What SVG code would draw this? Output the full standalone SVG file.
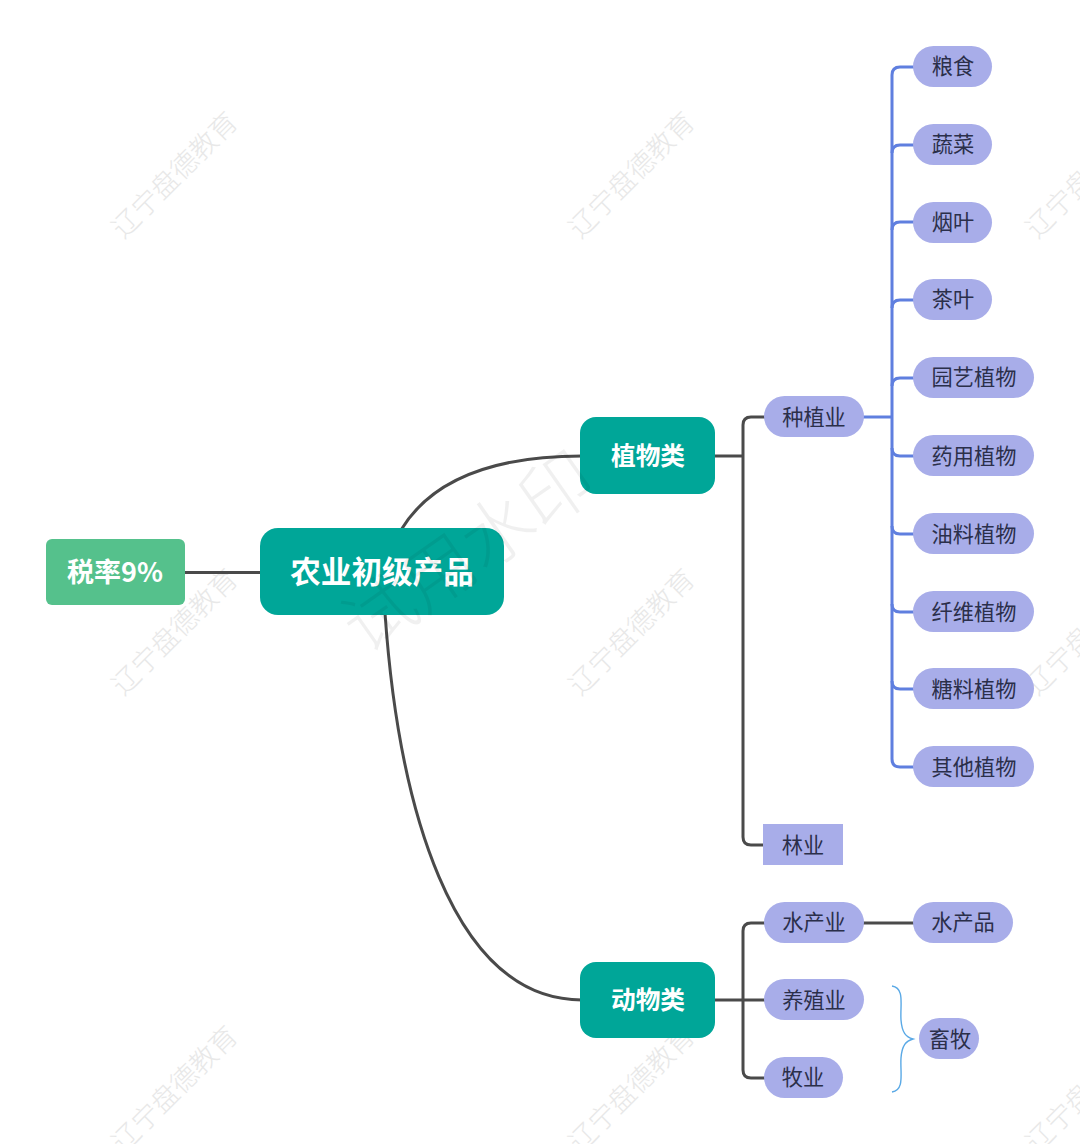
<svg xmlns="http://www.w3.org/2000/svg" width="1080" height="1144" viewBox="0 0 1080 1144">
<style>
text{font-family:"Noto Sans CJK SC","Liberation Sans",sans-serif;text-anchor:middle;dominant-baseline:central}
.wm{font-size:27.3px;fill:#e8e8e8;font-weight:300}
.c{fill:none;stroke:#4a4a4a;stroke-width:3}
.b{fill:none;stroke:#5f7fdf;stroke-width:3}
.leaf rect{fill:#a8ade9}
.leaf text{font-size:21.2px;fill:#2b2f4a}
.main rect{fill:#00a698}
.main text{fill:#fff;font-weight:700;font-size:24.7px}
</style>
<rect width="1080" height="1144" fill="#fff"/>
<g id="watermarks">
<text class="wm" transform="translate(173 173) rotate(-45)">辽宁盘德教育</text>
<text class="wm" transform="translate(630 173) rotate(-45)">辽宁盘德教育</text>
<text class="wm" transform="translate(1087 173) rotate(-45)">辽宁盘德教育</text>
<text class="wm" transform="translate(173 630) rotate(-45)">辽宁盘德教育</text>
<text class="wm" transform="translate(630 630) rotate(-45)">辽宁盘德教育</text>
<text class="wm" transform="translate(1087 630) rotate(-45)">辽宁盘德教育</text>
<text class="wm" transform="translate(173 1087) rotate(-45)">辽宁盘德教育</text>
<text class="wm" transform="translate(630 1087) rotate(-45)">辽宁盘德教育</text>
<text class="wm" transform="translate(1087 1087) rotate(-45)">辽宁盘德教育</text>
</g>
<g id="connectors">
<path class="c" d="M184 572.5H262"/>
<path class="c" d="M401 530C430 482 490 456 582 456"/>
<path class="c" d="M385 613C398 800 450 1000 582 1000"/>
<path class="c" d="M713 456H743M765 417H751Q743 417 743 425V837Q743 845 751 845H765"/>
<path class="c" d="M713 1000H765M765 923H751Q743 923 743 931V1070Q743 1078 751 1078H765"/>
<path class="c" d="M862 923H914"/>
<path class="b" d="M862 417H892"/>
<path class="b" d="M914 67H900Q892 67 892 75V759Q892 767 900 767H914"/>
<path class="b" d="M914 145H900Q892 145 892 153M914 222H900Q892 222 892 230M914 300H900Q892 300 892 308M914 378H900Q892 378 892 386M914 456H900Q892 456 892 448M914 534H900Q892 534 892 526M914 612H900Q892 612 892 604M914 689H900Q892 689 892 681"/>
<path d="M892 986C905 988 900 1005 901 1020C902 1033 906 1037 913 1039C906 1041 902 1045 901 1058C900 1073 905 1090 892 1092" fill="none" stroke="#5aa9e6" stroke-width="1.4"/>
</g>
<g id="root" class="main"><rect x="260" y="528" width="244" height="87" rx="18"/><text x="382" y="570" style="font-size:30.6px">农业初级产品</text></g>
<g id="tax"><rect x="46" y="539" width="139" height="66" rx="6" fill="#55c18c"/><text x="115" y="570" style="font-size:27px;font-weight:700;fill:#fff">税率9%</text></g>
<g id="plant" class="main"><rect x="580" y="417" width="135" height="77" rx="16"/><text x="648" y="454">植物类</text></g>
<g id="animal" class="main"><rect x="580" y="962" width="135" height="76" rx="16"/><text x="648" y="998">动物类</text></g>
<g id="zhongzhi" class="leaf"><rect x="764" y="396" width="100" height="41" rx="20.5"/><text x="814" y="415">种植业</text></g>
<g id="linye" class="leaf"><rect x="763" y="824" width="80" height="41"/><text x="803" y="843">林业</text></g>
<g id="shuichan" class="leaf"><rect x="764" y="902" width="100" height="41" rx="20.5"/><text x="814" y="920">水产业</text></g>
<g id="yangzhi" class="leaf"><rect x="764" y="979" width="100" height="41" rx="20.5"/><text x="814" y="998">养殖业</text></g>
<g id="muye" class="leaf"><rect x="764" y="1057" width="79" height="41" rx="20.5"/><text x="803" y="1075">牧业</text></g>
<g id="shuichanpin" class="leaf"><rect x="913" y="902" width="100" height="41" rx="20.5"/><text x="963" y="920">水产品</text></g>
<g id="xumu" class="leaf"><rect x="919" y="1018" width="60" height="41" rx="20.5"/><text x="950" y="1037">畜牧</text></g>
<g id="liangshi" class="leaf"><rect x="913" y="46" width="79" height="41" rx="20.5"/><text x="953" y="64">粮食</text></g>
<g id="shucai" class="leaf"><rect x="913" y="124" width="79" height="41" rx="20.5"/><text x="953" y="142">蔬菜</text></g>
<g id="yanye" class="leaf"><rect x="913" y="202" width="79" height="41" rx="20.5"/><text x="953" y="220">烟叶</text></g>
<g id="chaye" class="leaf"><rect x="913" y="279" width="79" height="41" rx="20.5"/><text x="953" y="297">茶叶</text></g>
<g id="yuanyi" class="leaf"><rect x="913" y="357" width="121" height="41" rx="20.5"/><text x="974" y="375">园艺植物</text></g>
<g id="yaoyong" class="leaf"><rect x="913" y="435" width="121" height="41" rx="20.5"/><text x="974" y="454">药用植物</text></g>
<g id="youliao" class="leaf"><rect x="913" y="513" width="121" height="41" rx="20.5"/><text x="974" y="532">油料植物</text></g>
<g id="xianwei" class="leaf"><rect x="913" y="591" width="121" height="41" rx="20.5"/><text x="974" y="610">纤维植物</text></g>
<g id="tangliao" class="leaf"><rect x="913" y="668" width="121" height="41" rx="20.5"/><text x="974" y="687">糖料植物</text></g>
<g id="qita" class="leaf"><rect x="913" y="746" width="121" height="41" rx="20.5"/><text x="974" y="765">其他植物</text></g>
<text id="trial-watermark" transform="translate(465 547) rotate(-35)" style="font-size:72px;fill:#000;fill-opacity:.06;font-weight:300">试用水印</text>
</svg>
